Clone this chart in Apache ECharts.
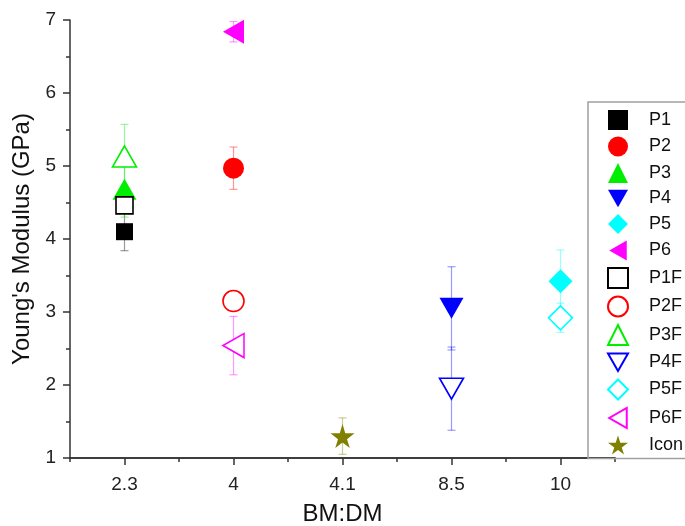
<!DOCTYPE html>
<html>
<head>
<meta charset="utf-8">
<script src="https://cdn.jsdelivr.net/npm/echarts@6/dist/echarts.min.js"></script>
<style>
  html, body { margin: 0; padding: 0; background: #fff; }
  #chart { width: 685px; height: 526px; }
</style>
</head>
<body>
<div id="chart"></div>
<script>
// categories on the x axis
const categories = ['2.3', '4', '4.1', '8.5', '10'];
const categoryPos = [0, 1, 2, 3, 4];

// one point per series: category index, mean, error (+/-)
const seriesNames = ['P1', 'P2', 'P3', 'P4', 'P5', 'P6', 'P1F', 'P2F', 'P3F', 'P4F', 'P5F', 'P6F', 'Icon'];
const seriesCat = [0, 1, 0, 3, 4, 1, 0, 1, 0, 3, 4, 1, 2];
const seriesVal = [4.10, 4.97, 4.68, 3.05, 3.42, 6.84, 4.46, 3.15, 5.13, 1.95, 2.92, 2.54, 1.30];
const seriesErr = [0.26, 0.29, 0.38, 0.57, 0.43, 0.14, 0.10, 0.08, 0.44, 0.57, 0.20, 0.40, 0.25];

const colors = ['#000000', '#ff0000', '#00ee00', '#0000ff', '#00ffff', '#ff00ff',
                '#000000', '#ff0000', '#00ee00', '#0000ff', '#00ffff', '#ff00ff', '#808000'];
const starPath = 'path://M50,0 L61,35 L98,35 L68,57 L79,91 L50,70 L21,91 L32,57 L2,35 L39,35 Z';
const downTri = 'path://M0,0 L24,0 L12,21 Z';
const leftTri = 'path://M21,0 L21,24 L0,12 Z';
const shapes = [
    { symbol: 'rect', size: 17, icon: 'rect' },
    { symbol: 'circle', size: 21, icon: 'circle' },
    { symbol: 'triangle', size: [24, 21], icon: 'triangle' },
    { symbol: downTri, size: [24, 21], icon: downTri },
    { symbol: 'diamond', size: 24, icon: 'diamond' },
    { symbol: leftTri, size: [21, 24], icon: leftTri }
];
const starShape = { symbol: starPath, size: 24, icon: starPath };

function hexAlpha(hex, a) {
    const r = parseInt(hex.slice(1, 3), 16);
    const g = parseInt(hex.slice(3, 5), 16);
    const b = parseInt(hex.slice(5, 7), 16);
    return 'rgba(' + r + ',' + g + ',' + b + ',' + a + ')';
}

const font = 'Liberation Sans, Arial, sans-serif';
const axisColor = '#333';
const chart = echarts.init(document.getElementById('chart'));

const series = [];
// error bars first so the markers sit on top
seriesNames.forEach((name, i) => {
    const color = hexAlpha(colors[i], 0.4);
    series.push({
        type: 'custom',
        name: name + '_err',
        z: 1,
        silent: true,
        xAxisIndex: 0,
        data: [[seriesCat[i], seriesVal[i] - seriesErr[i], seriesVal[i] + seriesErr[i]]],
        renderItem: (params, api) => {
            const lo = api.coord([api.value(0), api.value(1)]);
            const hi = api.coord([api.value(0), api.value(2)]);
            const cap = 4;
            const style = { stroke: color, lineWidth: 1.2 };
            return {
                type: 'group',
                children: [
                    { type: 'line', shape: { x1: lo[0], y1: lo[1], x2: hi[0], y2: hi[1] }, style: style },
                    { type: 'line', shape: { x1: lo[0] - cap, y1: lo[1], x2: lo[0] + cap, y2: lo[1] }, style: style },
                    { type: 'line', shape: { x1: hi[0] - cap, y1: hi[1], x2: hi[0] + cap, y2: hi[1] }, style: style }
                ]
            };
        }
    });
});

const legendData = [];
seriesNames.forEach((name, i) => {
    const shape = i === 12 ? starShape : shapes[i % 6];
    const hollow = i >= 6 && i < 12;
    const itemStyle = hollow
        ? { color: '#ffffff', borderColor: colors[i], borderWidth: 1.6, opacity: 1 }
        : { color: colors[i], opacity: 1 };
    series.push({
        type: 'scatter',
        name: name,
        z: 3,
        xAxisIndex: 0,
        symbol: shape.symbol,
        symbolSize: shape.size,
        itemStyle: itemStyle,
        data: [[seriesCat[i], seriesVal[i]]]
    });
    legendData.push({ name: name, icon: shape.icon });
});

const option = {
    animation: false,
    grid: {
        left: 70,
        right: 70,
        top: 20,
        bottom: 68,
        outerBoundsMode: 'none'
    },
    legend: {
        orient: 'vertical',
        left: 588,
        top: 102,
        data: legendData,
        itemWidth: 20,
        itemHeight: 20,
        itemGap: 6.5,
        padding: [8, 10, 4, 19],
        borderColor: '#a0a0a0',
        borderWidth: 1.5,
        textStyle: {
            fontFamily: font,
            fontSize: 18,
            color: '#111',
            padding: [0, 0, 0, 16]
        }
    },
    xAxis: [
        {
            // short ticks at every half step
            type: 'value',
            min: -0.5,
            max: 4.5,
            interval: 0.5,
            splitLine: { show: false },
            axisLine: { onZero: false, lineStyle: { color: axisColor, width: 1.5 } },
            axisTick: { length: 4, lineStyle: { color: axisColor, width: 1.5 } },
            axisLabel: { show: false }
        },
        {
            // long ticks and labels at the categories
            type: 'value',
            min: -0.5,
            max: 4.5,
            position: 'bottom',
            name: 'BM:DM',
            nameLocation: 'middle',
            nameGap: 44,
            nameTextStyle: { fontFamily: font, fontSize: 24, color: '#111' },
            splitLine: { show: false },
            axisLine: { onZero: false, lineStyle: { color: axisColor, width: 1.5 } },
            axisTick: { length: 7, customValues: categoryPos, lineStyle: { color: axisColor, width: 1.5 } },
            axisLabel: {
                fontFamily: font,
                fontSize: 19,
                color: '#222',
                margin: 17,
                customValues: categoryPos,
                formatter: (v) => categories[Math.round(v)]
            }
        }
    ],
    yAxis: {
        type: 'value',
        min: 1,
        max: 7,
        interval: 1,
        name: "Young's Modulus (GPa)",
        nameLocation: 'middle',
        nameGap: 30,
        nameTextStyle: { fontFamily: font, fontSize: 24, color: '#111' },
        splitLine: { show: false },
        axisLine: { show: true, onZero: false, lineStyle: { color: axisColor, width: 1.5 } },
        axisTick: { length: 7, lineStyle: { color: axisColor, width: 1.5 } },
        minorTick: { show: true, splitNumber: 2, length: 4, lineStyle: { color: axisColor, width: 1.5 } },
        axisLabel: {
            fontFamily: font,
            fontSize: 19,
            color: '#222',
            margin: 14
        }
    },
    series: series
};

chart.setOption(option);
</script>
</body>
</html>
